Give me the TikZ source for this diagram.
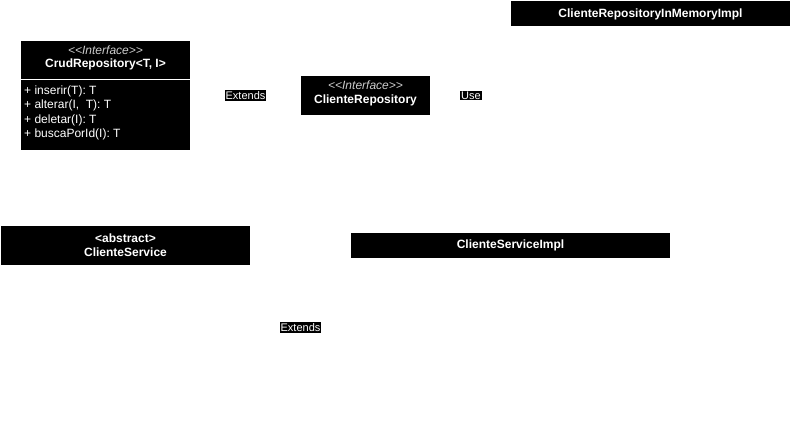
\documentclass[tikz,border=0pt]{standalone}
\usepackage{fontspec}
\setmainfont{Liberation Sans}
\begin{document}
\begin{tikzpicture}[x=1pt,y=-1pt,
  box/.style={fill=black,draw=none,inner sep=0pt,anchor=north west},
  wt/.style={text=white,inner sep=0pt,font=\fontsize{12}{14}\selectfont},
  wtb/.style={wt,font=\fontsize{12}{14}\selectfont\bfseries},
  wti/.style={text=white!80!black,inner sep=0pt,font=\fontsize{12}{14}\selectfont\itshape},
  lbl/.style={fill=black,text=white,inner sep=1pt,font=\fontsize{11}{13}\selectfont}]
\useasboundingbox[fill=white] (0,0) rectangle (792,433);
% CrudRepository
\node[box,minimum width=169pt,minimum height=109pt] (crud) at (21,41) {};
\draw[white,line width=1pt] (crud.north west) ++(0,38.5) coordinate (sepL) -- ++(169,0) coordinate (sepR);
\node[wti] (crudst) at (105.5,50) {{<}{<}Interface{>}{>}};
\node[wtb] (crudname) at (105.5,64.5) {CrudRepository<T, I>};
\node[wt,anchor=west] (m1) at (24,91) {+ inserir(T): T};
\node[wt,anchor=west] (m2) at (24,105.5) {+ alterar(I,\ \ T): T};
\node[wt,anchor=west] (m3) at (24,120) {+ deletar(I): T};
\node[wt,anchor=west] (m4) at (24,134.5) {+ buscaPorId(I): T};
% ClienteRepository
\node[box,minimum width=129pt,minimum height=39pt] (crepo) at (301,76) {};
\node[wti] (crepost) at (365.5,85.5) {{<}{<}Interface{>}{>}};
\node[wtb] (creponame) at (365.5,100) {ClienteRepository};
% InMemoryImpl
\node[box,minimum width=279pt,minimum height=25pt] (inmem) at (511,1) {};
\node[wtb] (inmemname) at (650.5,14) {ClienteRepositoryInMemoryImpl};
% ClienteService
\node[box,minimum width=249pt,minimum height=39pt] (cserv) at (1,226) {};
\node[wtb] (cservst) at (125.5,238.5) {<abstract>};
\node[wtb] (cservname) at (125.5,252.5) {ClienteService};
% ClienteServiceImpl
\node[box,minimum width=319pt,minimum height=25pt] (cimpl) at (351,233) {};
\node[wtb] (cimplname) at (510.5,245.5) {ClienteServiceImpl};
% labels
\node[lbl] (ext1) at (245.5,95.5) {Extends};
\node[lbl] (use1) at (471,95.5) {Use};
\node[lbl] (ext2) at (300.5,327.5) {Extends};
\end{tikzpicture}
\end{document}
